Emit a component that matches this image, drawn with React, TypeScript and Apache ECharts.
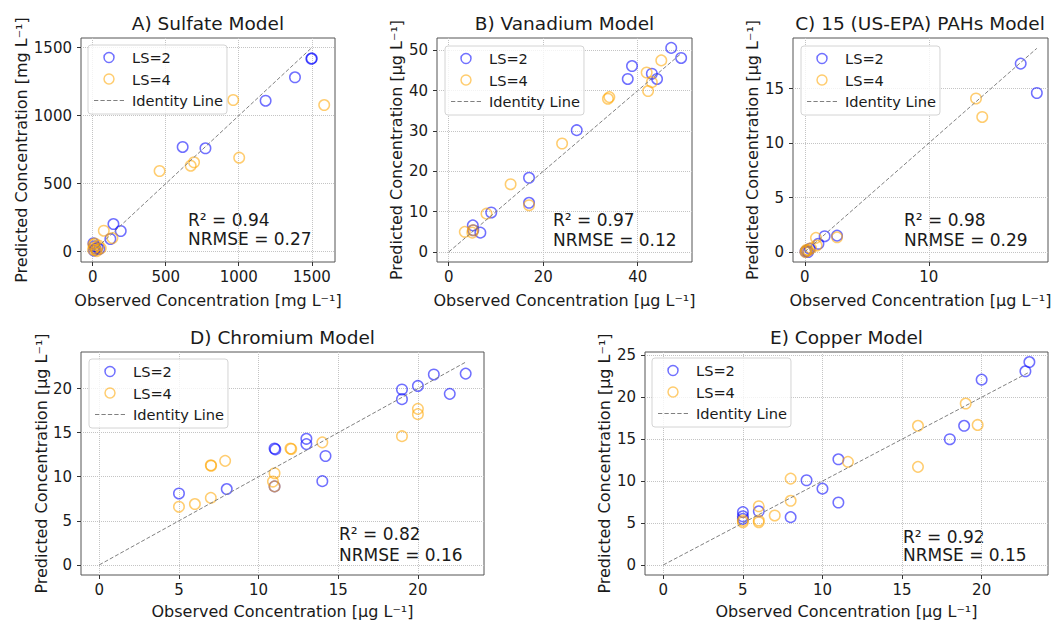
import React, { useEffect, useRef } from "react";
import * as echarts from "echarts";

const FONT = "DejaVu Sans";
const BLUE = "rgba(0,0,255,0.7)";
const ORANGE = "rgba(255,165,0,0.7)";
const GRAY = "#808080";

// ---------- Data (observed, predicted) ----------
const sulfateLS2 = [
  [1500, 1421], [1497, 1418], [1385, 1282], [1184, 1110], [616, 770], [772, 760],
  [142, 203], [192, 152], [121, 93], [5, 62], [12, 40], [18, 22], [8, 8], [32, 28], [45, 20],
];
const sulfateLS4 = [
  [962, 1115], [1585, 1078], [1003, 691], [458, 593], [671, 632], [694, 657],
  [76, 154], [135, 100], [4, 50], [10, 30], [22, 12], [40, 45], [28, 4], [55, 25], [15, 60], [2, 15],
];
const vanadiumLS2 = [
  [47.1, 50.6], [49.2, 48.1], [38.8, 46.1], [37.9, 42.9], [43.0, 44.2], [44.1, 42.9],
  [27.1, 30.2], [17.0, 18.4], [17.0, 12.2], [9.0, 9.8], [5.1, 6.6], [6.7, 4.8], [5.2, 5.4],
];
const vanadiumLS4 = [
  [45.0, 47.5], [41.9, 44.5], [42.2, 39.9], [43.0, 42.1], [33.7, 38.0], [34.0, 38.4],
  [24.0, 26.9], [13.1, 16.8], [17.0, 11.6], [8.0, 9.5], [3.4, 5.0], [5.1, 5.4], [5.0, 4.8],
];
const pahLS2 = [
  [17.4, 17.3], [18.7, 14.6], [1.6, 1.45], [2.6, 1.5], [1.1, 0.75], [0.4, 0.3],
  [0.05, 0.05], [0.27, 0.0], [0.15, 0.1],
];
const pahLS4 = [
  [13.8, 14.1], [14.3, 12.4], [0.9, 1.3], [2.6, 1.35], [0.95, 0.6], [0.15, 0.2],
  [0.3, 0.15], [0.05, 0.0], [0.5, 0.35], [0.1, 0.1],
];
const chromiumLS2 = [
  [23, 21.7], [21, 21.6], [20, 20.3], [19, 19.9], [19, 18.8], [22, 19.4], [13, 14.3],
  [13, 13.7], [11, 13.2], [11.05, 13.1], [14.2, 12.35], [14, 9.5], [8, 8.6], [5, 8.1], [11, 8.9],
];
const chromiumLS4 = [
  [20, 17.7], [20, 17.1], [19, 14.6], [14, 13.9], [12, 13.2], [12.05, 13.15], [7.9, 11.8],
  [7, 11.3], [7.02, 11.25], [11, 10.4], [10.9, 9.45], [11, 8.9], [7, 7.6], [6, 6.9], [5, 6.6],
];
const copperLS2 = [
  [23, 24.2], [22.75, 23.1], [20, 22.1], [18.9, 16.6], [18, 15], [11, 12.6], [9, 10.1],
  [10, 9.1], [11, 7.45], [8, 5.7], [6, 6.4], [5, 6.3], [5, 5.8], [5, 5.5],
];
const copperLS4 = [
  [19, 19.25], [19.75, 16.7], [16, 16.6], [16, 11.7], [11.6, 12.3], [8, 10.3], [8, 7.65],
  [7, 5.9], [6, 7.0], [6, 5.3], [6, 5.1], [5, 5.3], [5, 5.1],
];

// ---------- Tick labels ----------
const sulfateTicks = [0, 500, 1000, 1500];
const vanadiumXTicks = [0, 20, 40];
const vanadiumYTicks = [0, 10, 20, 30, 40, 50];
const pahXTicks = [0, 10];
const pahYTicks = [0, 5, 10, 15];
const chromiumTicks = [0, 5, 10, 15, 20];
const copperXTicks = [0, 5, 10, 15, 20];
const copperYTicks = [0, 5, 10, 15, 20, 25];

const titles = ["A) Sulfate Model", "B) Vanadium Model", "C) 15 (US-EPA) PAHs Model", "D) Chromium Model", "E) Copper Model"];
const units = ["mg L⁻¹", "µg L⁻¹", "µg L⁻¹", "µg L⁻¹", "µg L⁻¹"];
const r2Values = ["0.94", "0.97", "0.98", "0.82", "0.92"];
const nrmseValues = ["0.27", "0.12", "0.29", "0.16", "0.15"];
const identityMax = [1500, 49, 18.7, 23, 23];

const panels = [
  { ls2: sulfateLS2, ls4: sulfateLS4, xt: sulfateTicks, yt: sulfateTicks,
    grid: { left: 81, top: 38, width: 254, height: 224 }, xr: [-80, 1659], yr: [-76, 1571],
    xGap: 30, yGap: 52, legend: [88, 45], ann: [188, 220, 239], tc: [208, 23] },
  { ls2: vanadiumLS2, ls4: vanadiumLS4, xt: vanadiumXTicks, yt: vanadiumYTicks,
    grid: { left: 437, top: 38, width: 255, height: 224 }, xr: [-2.48, 51.5], yr: [-2.48, 53.05],
    xGap: 30, yGap: 33, legend: [445, 46], ann: [553, 220, 240], tc: [564.5, 23] },
  { ls2: pahLS2, ls4: pahLS4, xt: pahXTicks, yt: pahYTicks,
    grid: { left: 793, top: 38, width: 255, height: 224 }, xr: [-0.95, 19.6], yr: [-0.92, 19.65],
    xGap: 30, yGap: 33, legend: [801, 46], ann: [904, 220, 240], tc: [920, 23] },
  { ls2: chromiumLS2, ls4: chromiumLS4, xt: chromiumTicks, yt: chromiumTicks,
    grid: { left: 81, top: 352, width: 403, height: 224 }, xr: [-1.15, 24.15], yr: [-1.15, 24.15],
    xGap: 28, yGap: 32, legend: [89, 359], ann: [339, 534, 555], tc: [282.5, 337] },
  { ls2: copperLS2, ls4: copperLS4, xt: copperXTicks, yt: copperYTicks,
    grid: { left: 645, top: 352, width: 403, height: 224 }, xr: [-1.15, 24.17], yr: [-1.2, 25.4],
    xGap: 28, yGap: 33, legend: [652, 358], ann: [903, 537, 555], tc: [846.5, 337] },
];

const DASH_ICON = "path://M0,0h4v1h-4z M6,0h4v1h-4z M12,0h4v1h-4z M18,0h4v1h-4z M24,0h4v1h-4z";

function buildOption() {
  const grid: any[] = [];
  const xAxis: any[] = [];
  const yAxis: any[] = [];
  const series: any[] = [];
  const legend: any[] = [];
  const title: any[] = [];
  const graphic: any[] = [];
  const fmt = (v: number) => String(v);

  panels.forEach((p, i) => {
    grid.push({ ...p.grid, show: true, borderColor: "#555", borderWidth: 1, backgroundColor: "transparent" });
    const axisCommon = (ticks: number[]) => ({
      gridIndex: i,
      type: "value",
      axisLine: { show: false, onZero: false },
      axisTick: { show: true, inside: false, length: 4, customValues: ticks, lineStyle: { color: "#333", width: 1 } },
      splitLine: { show: true, lineStyle: { type: "dotted", color: "#c4c4c4", width: 1 } },
      nameLocation: "middle",
      nameTextStyle: { fontSize: 16, fontFamily: FONT, color: "#1a1a1a" },
    });
    xAxis.push({
      ...axisCommon(p.xt),
      min: p.xr[0], max: p.xr[1],
      name: `Observed Concentration [${units[i]}]`,
      nameGap: p.xGap,
      axisLabel: { customValues: p.xt, formatter: fmt, margin: 7, fontSize: 15, fontFamily: FONT, color: "#1a1a1a" },
    });
    yAxis.push({
      ...axisCommon(p.yt),
      min: p.yr[0], max: p.yr[1],
      name: `Predicted Concentration [${units[i]}]`,
      nameGap: p.yGap,
      nameRotate: 90,
      axisLabel: { customValues: p.yt, formatter: fmt, margin: 9, fontSize: 15, fontFamily: FONT, color: "#1a1a1a" },
    });
    series.push({
      type: "scatter", name: "LS=2", xAxisIndex: i, yAxisIndex: i, data: p.ls2,
      symbol: "circle", symbolSize: 10.5, silent: true,
      itemStyle: { color: "rgba(0,0,0,0)", borderColor: BLUE, borderWidth: 1.5 },
    });
    series.push({
      type: "scatter", name: "LS=4", xAxisIndex: i, yAxisIndex: i, data: p.ls4,
      symbol: "circle", symbolSize: 10.5, silent: true,
      itemStyle: { color: "rgba(0,0,0,0)", borderColor: ORANGE, borderWidth: 1.5 },
    });
    series.push({
      type: "line", name: "Identity Line", xAxisIndex: i, yAxisIndex: i,
      data: [[0, 0], [identityMax[i], identityMax[i]]],
      symbol: "none", showSymbol: false, silent: true,
      itemStyle: { color: GRAY },
      lineStyle: { color: GRAY, width: 1, type: [4, 2] },
    });
    legend.push({
      left: p.legend[0], top: p.legend[1], orient: "vertical",
      itemWidth: 30, itemHeight: 10, itemGap: 6.5,
      padding: [5, 4, 6, 6],
      backgroundColor: "rgba(255,255,255,0.8)", borderColor: "#d4d4d4", borderWidth: 1, borderRadius: 3,
      selectedMode: false,
      textStyle: { fontSize: 14.6, fontFamily: FONT, color: "#1a1a1a", padding: [0, 0, 0, 3] },
      data: [
        { name: "LS=2", icon: "circle", itemStyle: { color: "rgba(0,0,0,0)", borderColor: BLUE, borderWidth: 1.5 } },
        { name: "LS=4", icon: "circle", itemStyle: { color: "rgba(0,0,0,0)", borderColor: ORANGE, borderWidth: 1.5 } },
        { name: "Identity Line", icon: DASH_ICON, itemStyle: { color: GRAY, borderWidth: 0 } },
      ],
    });
    title.push({
      text: titles[i], left: p.tc[0], top: p.tc[1], textAlign: "center", textVerticalAlign: "middle", padding: 0,
      textStyle: { fontSize: 18.5, fontWeight: "normal", fontFamily: FONT, color: "#1a1a1a" },
    });
    graphic.push({
      type: "text", left: p.ann[0], top: p.ann[1] - 9,
      style: { text: `R² = ${r2Values[i]}`, fontSize: 17, fontFamily: FONT, fill: "#1a1a1a" },
    });
    graphic.push({
      type: "text", left: p.ann[0], top: p.ann[2] - 9,
      style: { text: `NRMSE = ${nrmseValues[i]}`, fontSize: 17, fontFamily: FONT, fill: "#1a1a1a" },
    });
  });

  return { animation: false, backgroundColor: "#fff", grid, xAxis, yAxis, series, legend, title, graphic };
}

export default function App() {
  const ref = useRef<HTMLDivElement>(null);
  useEffect(() => {
    if (!ref.current) return;
    const chart = echarts.init(ref.current, null, { renderer: "svg" });
    chart.setOption(buildOption() as any);
    return () => chart.dispose();
  }, []);
  return <div ref={ref} style={{ position: "fixed", left: 0, top: 0, width: 1054, height: 620 }} />;
}
